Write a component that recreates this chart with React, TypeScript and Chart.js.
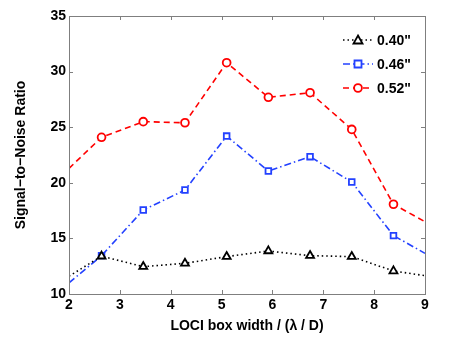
import React, { useEffect, useRef } from "react";
import { Chart, registerables } from "chart.js";
Chart.register(...registerables);

const xValues = [2, 2.64, 3.46, 4.28, 5.1, 5.92, 6.74, 7.56, 8.38, 9];
const snr040 = [11.6, 13.4, 12.46, 12.76, 13.36, 13.87, 13.45, 13.36, 12.07, 11.65];
const snr046 = [11.0, 13.45, 17.55, 19.35, 24.2, 21.06, 22.35, 20.07, 15.25, 13.66];
const snr052 = [21.3, 24.09, 25.5, 25.4, 30.8, 27.69, 28.1, 24.8, 18.07, 16.5];
const seriesLabels = ['0.40"', '0.46"', '0.52"'];
const xTicks = [2, 3, 4, 5, 6, 7, 8, 9];
const yTicks = [10, 15, 20, 25, 30, 35];

const BLUE = "rgb(35,65,255)";
const RED = "rgb(255,0,0)";
const BLACK = "rgb(0,0,0)";
const FONT = "'Liberation Sans', Arial, Helvetica, sans-serif";

const styles = [
  { color: BLACK, dash: [1.5, 3], point: "triangle", radius: 4.6 },
  { color: BLUE, dash: [7, 3, 1.5, 3], point: "rect", radius: 4 },
  { color: RED, dash: [6, 4], point: "circle", radius: 3.9 },
];

function toPoints(vals: number[]) {
  return xValues.map((x, i) => ({ x, y: vals[i] }));
}

const frame = {
  id: "frame",
  afterDraw(chart: any) {
    const { ctx, chartArea: a, scales } = chart;
    ctx.save();
    ctx.strokeStyle = "#7f7f7f";
    ctx.lineWidth = 1;
    ctx.setLineDash([]);
    ctx.strokeRect(Math.round(a.left) + 0.5, Math.round(a.top) + 0.5, Math.round(a.right - a.left), Math.round(a.bottom - a.top));
    const L = 4;
    ctx.beginPath();
    for (const t of xTicks) {
      const px = Math.round(scales.x.getPixelForValue(t)) + 0.5;
      ctx.moveTo(px, a.bottom);
      ctx.lineTo(px, a.bottom - L);
      ctx.moveTo(px, a.top);
      ctx.lineTo(px, a.top + L);
    }
    for (const t of yTicks) {
      const py = Math.round(scales.y.getPixelForValue(t)) + 0.5;
      ctx.moveTo(a.left, py);
      ctx.lineTo(a.left + L, py);
      ctx.moveTo(a.right, py);
      ctx.lineTo(a.right - L, py);
    }
    ctx.stroke();

    // legend
    const rows = [40, 64, 88];
    styles.forEach((s, i) => {
      const y = rows[i];
      ctx.strokeStyle = s.color;
      ctx.lineWidth = 1.5;
      ctx.setLineDash(s.dash);
      ctx.beginPath();
      ctx.moveTo(343, y);
      ctx.lineTo(373, y);
      ctx.stroke();
      ctx.setLineDash([]);
      ctx.lineWidth = 1.8;
      ctx.fillStyle = "#fff";
      ctx.beginPath();
      if (s.point === "triangle") {
        ctx.moveTo(358, y - 4.5);
        ctx.lineTo(362.5, y + 3.5);
        ctx.lineTo(353.5, y + 3.5);
        ctx.closePath();
      } else if (s.point === "rect") {
        ctx.rect(354.5, y - 3.5, 7, 7);
      } else {
        ctx.arc(358, y, 3.9, 0, Math.PI * 2);
      }
      ctx.fill();
      ctx.stroke();
      ctx.fillStyle = "#000";
      ctx.font = "bold 14px " + FONT;
      ctx.textAlign = "left";
      ctx.textBaseline = "middle";
      ctx.fillText(seriesLabels[i], 377, y + 1);
    });
    ctx.restore();
  },
};

export default function App() {
  const ref = useRef<HTMLCanvasElement>(null);
  useEffect(() => {
    document.body.style.margin = "0";
    const chart = new Chart(ref.current!, {
      type: "line",
      data: {
        datasets: [snr040, snr046, snr052].map((vals, i) => ({
          label: seriesLabels[i],
          data: toPoints(vals),
          borderColor: styles[i].color,
          backgroundColor: "#fff",
          borderWidth: 1.6,
          borderDash: styles[i].dash,
          pointStyle: styles[i].point as any,
          pointRadius: xValues.map((_, j) => (j === 0 || j === xValues.length - 1 ? 0 : styles[i].radius)),
          pointBorderWidth: 1.8,
          pointBorderColor: styles[i].color,
          pointBackgroundColor: "#fff",
          tension: 0,
        })),
      },
      options: {
        responsive: false,
        animation: false,
        events: [],
        layout: { padding: { top: 16, right: 35, left: 0, bottom: 0 } },
        plugins: { legend: { display: false }, tooltip: { enabled: false } },
        scales: {
          x: {
            type: "linear",
            min: 2,
            max: 9,
            afterFit: (s: any) => { s.height = 52; },
            afterBuildTicks: (s: any) => { s.ticks = xTicks.map((v) => ({ value: v })); },
            grid: { display: false, drawTicks: false },
            border: { display: false },
            ticks: { color: "#000", font: { family: FONT, size: 14, weight: "bold" }, padding: 3, maxRotation: 0 },
            title: { display: true, text: "LOCI box width / (λ / D)", color: "#000", font: { family: FONT, size: 14, weight: "bold" }, padding: { top: 0, bottom: 11 } },
          },
          y: {
            type: "linear",
            min: 10,
            max: 35,
            afterFit: (s: any) => { s.width = 69; },
            afterBuildTicks: (s: any) => { s.ticks = yTicks.map((v) => ({ value: v })); },
            grid: { display: false, drawTicks: false },
            border: { display: false },
            ticks: { color: "#000", font: { family: FONT, size: 14, weight: "bold" }, padding: 3 },
            title: { display: true, text: "Signal−to−Noise Ratio", color: "#000", font: { family: FONT, size: 14, weight: "bold" }, padding: { top: 13, bottom: 0 } },
          },
        },
      },
      plugins: [frame],
    });
    return () => chart.destroy();
  }, []);
  return (
    <div style={{ width: 460, height: 346 }}>
      <canvas ref={ref} width={460} height={346} style={{ display: "block" }} />
    </div>
  );
}
